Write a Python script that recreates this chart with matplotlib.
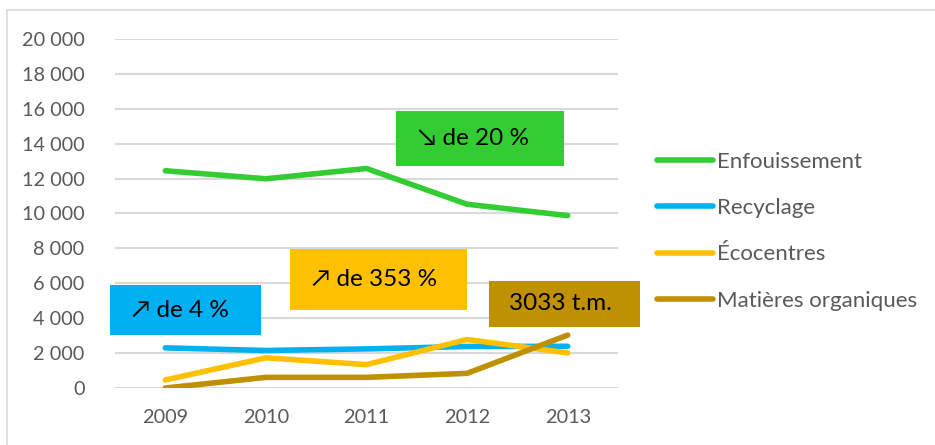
import matplotlib.pyplot as plt
from matplotlib.patches import Rectangle

plt.rcParams['font.family'] = ['Lato', 'DejaVu Sans']

# data
years = ['2009', '2010', '2011', '2012', '2013']
enfouissement = [12450, 11990, 12580, 10530, 9880]
recyclage = [2300, 2150, 2240, 2380, 2390]
ecocentres = [460, 1730, 1340, 2780, 2010]
organiques = [0, 610, 610, 840, 3033]
labels = ['Enfouissement', 'Recyclage', 'Écocentres', 'Matières organiques']
colors = ['#33cc33', '#00b0f0', '#ffc000', '#bf9000']
yticks = list(range(0, 20001, 2000))

W, H = 935, 445
fig = plt.figure(figsize=(W / 100, H / 100), dpi=100)
ax = fig.add_axes([115 / W, 1 - 388 / H, (618 - 115) / W, (388 - 39) / H])

# outer chart border
fig.patches.append(Rectangle((7 / W, -0.1), 1.2, 1 - 10 / H + 0.1, transform=fig.transFigure,
                             fill=False, edgecolor='#d9d9d9', linewidth=1.2))

x = list(range(len(years)))
series = [enfouissement, recyclage, ecocentres, organiques]
lines = []
for vals, lab, col in zip(series, labels, colors):
    ln, = ax.plot(x, vals, color=col, linewidth=4, label=lab, solid_capstyle='round', zorder=3)
    lines.append(ln)

ax.set_xlim(-0.5, 4.5)
ax.set_ylim(0, 20000)
ax.set_yticks(yticks)
ax.set_yticklabels([f'{v:,}'.replace(',', ' ') for v in yticks])
ax.set_xticks(x)
ax.set_xticklabels(years)
ax.grid(axis='y', color='#d9d9d9', linewidth=1.5)
ax.set_axisbelow(True)
for s in ax.spines.values():
    s.set_visible(False)
ax.tick_params(length=0, labelsize=14.3, colors='#595959')
ax.tick_params(axis='y', pad=22)
ax.tick_params(axis='x', pad=15)

# annotation boxes (pixel coords of the image)
def box(x0, y0, x1, y1, fc, text, tx):
    fig.patches.append(Rectangle((x0 / W, 1 - y1 / H), (x1 - x0) / W, (y1 - y0) / H,
                                 transform=fig.transFigure, facecolor=fc, edgecolor='none', zorder=5))
    fig.text(tx / W, 1 - (y0 + y1) / 2 / H, text, ha='left', va='center',
             fontsize=17.5, color='black', zorder=6)

box(396, 111, 564, 166, '#33cc33', '↘ de 20 %', 418)
box(290, 249, 467, 310, '#ffc000', '↗ de 353 %', 312)
box(110, 285, 261, 335, '#00b0f0', '↗ de 4 %', 132)
box(489, 281, 640, 327, '#bf9000', '3033 t.m.', 509)

leg = fig.legend(handles=lines, labels=labels, loc='upper left',
                 bbox_to_anchor=(657 / W, 1 - 152 / H), frameon=False,
                 fontsize=16, handlelength=2.5, handletextpad=0.22,
                 labelspacing=1.18, borderpad=0, borderaxespad=0,
                 labelcolor='#595959')

fig.savefig('out.png', dpi=100)
